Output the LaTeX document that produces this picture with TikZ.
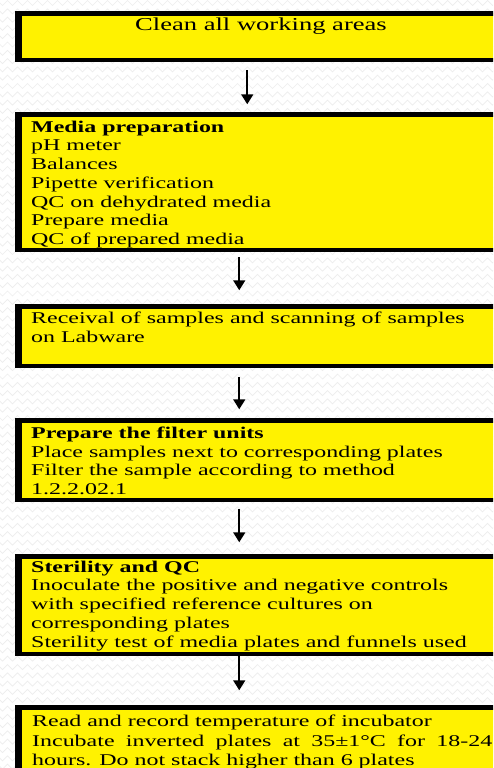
\documentclass[tikz,border=0pt]{standalone}
\usepackage{fontspec}
\setmainfont{Liberation Serif}[FakeStretch=1.46]
\usetikzlibrary{arrows.meta,decorations.pathmorphing}
\begin{document}
\begin{tikzpicture}[x=1pt,y=-1pt,
  boxnode/.style={draw=black,line width=4.5pt,fill=yellow,inner sep=0pt,anchor=north west,minimum width=497pt},
  txt/.style={anchor=north west,inner sep=0pt,align=left,font=\fontsize{16.4}{18.7}\selectfont,execute at begin node={\rule{0pt}{14pt}}},
  arr/.style={line width=1.8pt,-{Triangle[width=12pt,length=10pt]}},
  zig/.style={draw=black!7,line width=0.7pt,decorate,decoration={zigzag,segment length=10pt,amplitude=2.5pt}}]
\useasboundingbox (0,0) rectangle (493,768);
\clip (0,0) rectangle (493,768);
\fill[white] (0,0) rectangle (493,768);
\foreach \r in {0,...,93} \draw[zig] (-5,{3+\r*8.3}) -- (505,{3+\r*8.3});
% boxes
\node[boxnode,minimum height=46.5pt] (b1) at (15.25,11.25) {};
\node[boxnode,minimum height=135.5pt] (b2) at (15.25,112.25) {};
\node[boxnode,minimum height=59.5pt] (b3) at (15.25,304.25) {};
\node[boxnode,minimum height=79.5pt] (b4) at (15.25,418.25) {};
\node[boxnode,minimum height=97.5pt] (b5) at (15.25,554.25) {};
\node[boxnode,minimum height=72pt] (b6) at (15.25,705.25) {};
\foreach \b in {b1,b2,b3,b4,b5,b6}
  \fill[black] (\b.north west) rectangle ([xshift=7pt]\b.south west);
% texts
\node[anchor=base,inner sep=0pt,font=\fontsize{18.2}{21}\selectfont] (t1) at (261,31) {Clean all working areas};
\node[txt] (t2) at (31,120.7) {\textbf{Media preparation}\\pH meter\\Balances\\Pipette verification\\QC on dehydrated media\\Prepare media\\QC of prepared media};
\node[txt] (t3) at (31,311.7) {Receival of samples and scanning of samples\\on Labware};
\node[txt] (t4) at (31,426.7) {\textbf{Prepare the filter units}\\Place samples next to corresponding plates\\Filter the sample according to method\\1.2.2.02.1};
\node[txt] (t5) at (31,560.7) {\textbf{Sterility and QC}\\Inoculate the positive and negative controls\\with specified reference cultures on\\corresponding plates\\Sterility test of media plates and funnels used};
\node[txt,font=\fontsize{16.4}{19.5}\selectfont] (t6) at (32,715) {Read and record temperature of incubator\\\makebox[460pt][s]{Incubate inverted plates at 35±1°C for 18-24}\\hours. Do not stack higher than 6 plates};
% arrows
\draw[arr] ([shift={(232pt,-8pt)}]b1.south west) -- ([shift={(232pt,8pt)}]b2.north west);
\draw[arr] ([shift={(224pt,-5pt)}]b2.south west) -- ([shift={(224pt,14pt)}]b3.north west);
\draw[arr] ([shift={(224pt,-9pt)}]b3.south west) -- ([shift={(224pt,9pt)}]b4.north west);
\draw[arr] ([shift={(224pt,-7pt)}]b4.south west) -- ([shift={(224pt,12pt)}]b5.north west);
\draw[arr] ([shift={(224pt,0pt)}]b5.south west) -- ([shift={(224pt,15pt)}]b6.north west);
\end{tikzpicture}
\end{document}
